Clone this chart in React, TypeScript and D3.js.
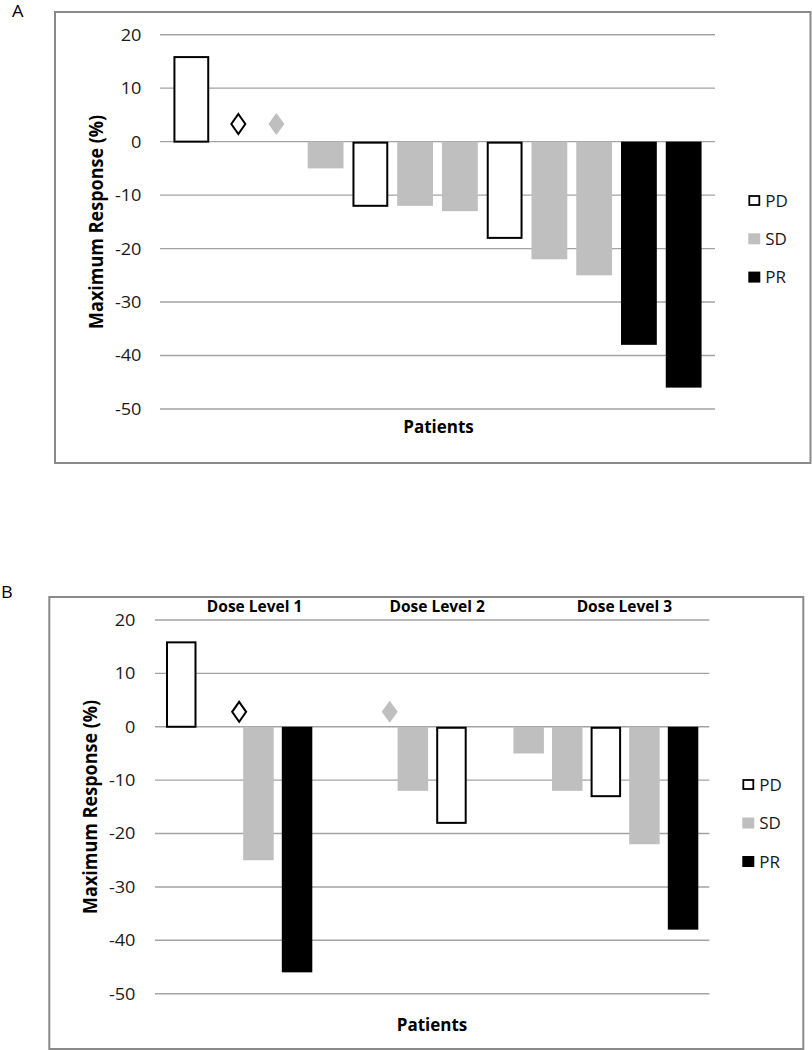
import React from "react";
import * as d3 from "d3";

// ---------- data ----------
const yTicks = [20, 10, 0, -10, -20, -30, -40, -50];
const legendItems = ["PD", "SD", "PR"];

// Panel A (patients ordered by response)
const aSlotCount = 12;
const aBarSlots = [0, 3, 4, 5, 6, 7, 8, 9, 10, 11];
const aBarTypes = ["PD", "SD", "PD", "SD", "SD", "PD", "SD", "SD", "PR", "PR"];
const aBarValues = [16, -5, -12, -12, -13, -18, -22, -25, -38, -46];
const aDiamondSlots = [1.05, 1.9];
const aDiamondTypes = ["PD", "SD"];
const aDiamondValues = [3.3, 3.3];

// Panel B (patients grouped by dose level)
const bSlotCount = 14;
const bBarSlots = [0, 2, 3, 6, 7, 9, 10, 11, 12, 13];
const bBarTypes = ["PD", "SD", "PR", "SD", "PD", "SD", "SD", "PD", "SD", "PR"];
const bBarValues = [16, -25, -46, -12, -18, -5, -12, -13, -22, -38];
const bDiamondSlots = [1.5, 5.4];
const bDiamondTypes = ["PD", "SD"];
const bDiamondValues = [2.8, 2.8];
const bDoseLabels = ["Dose Level 1", "Dose Level 2", "Dose Level 3"];
const bDoseLabelSlots = [1.9, 6.63, 11.48];

// ---------- styles ----------
const FONT = "'Open Sans', 'Noto Sans', sans-serif";
const GRAY = "#bfbfbf";
const fillFor = (t: string) => (t === "PD" ? "#ffffff" : t === "SD" ? GRAY : "#000000");

type PanelProps = {
  letter: string;
  letterX: number;
  letterY: number;
  frame: { x: number; y: number; w: number; h: number };
  plotX0: number;
  plotX1: number;
  yTop: number;
  yBottom: number;
  slotCount: number;
  paddingInner: number;
  paddingOuter: number;
  barSlots: number[];
  barTypes: string[];
  barValues: number[];
  diamondSlots: number[];
  diamondTypes: string[];
  diamondValues: number[];
  tickRight: number;
  titleX: number;
  patientsX: number;
  patientsY: number;
  legendX: number;
  legendY: number;
  legendStep: number;
  doseLabels?: string[];
  doseSlots?: number[];
  doseY?: number;
};

function Panel(p: PanelProps) {
  const y = d3.scaleLinear().domain([-50, 20]).range([p.yBottom, p.yTop]);
  const x = d3
    .scaleBand<number>()
    .domain(d3.range(p.slotCount))
    .range([p.plotX0, p.plotX1])
    .paddingInner(p.paddingInner)
    .paddingOuter(p.paddingOuter);
  const bw = x.bandwidth();
  const step = x.step();
  const slotCenter = (s: number) => (x(0) as number) + bw / 2 + s * step;
  const y0 = y(0);
  const titleY = (p.yTop + p.yBottom) / 2;

  const diamondPath = (cx: number, cy: number, hw: number, hh: number) =>
    `M${cx},${cy - hh}L${cx + hw},${cy}L${cx},${cy + hh}L${cx - hw},${cy}Z`;

  return (
    <g>
      <text
        transform={`translate(${p.letterX},${p.letterY}) scale(1.1,1)`}
        fontFamily={FONT}
        fontSize={16.5}
        fill="#000"
      >
        {p.letter}
      </text>
      <rect
        x={p.frame.x}
        y={p.frame.y}
        width={p.frame.w}
        height={p.frame.h}
        fill="#fff"
        stroke="#8a8a8a"
        strokeWidth={2}
      />
      {/* gridlines */}
      {yTicks.map((t) => (
        <line
          key={"g" + t}
          x1={p.plotX0}
          x2={p.plotX1}
          y1={y(t)}
          y2={y(t)}
          stroke="#a3a3a3"
          strokeWidth={1.4}
        />
      ))}
      {/* tick labels */}
      {yTicks.map((t) => (
        <text
          key={"t" + t}
          transform={`translate(${p.tickRight},${y(t)}) scale(1.1,1)`}
          dy="0.36em"
          textAnchor="end"
          fontFamily={FONT}
          fontSize={16.5}
          fill="#1a1a1a"
        >
          {t}
        </text>
      ))}
      {/* bars */}
      {p.barSlots.map((s, i) => {
        const v = p.barValues[i];
        const t = p.barTypes[i];
        const x0 = x(s) as number;
        const top = Math.min(y(v), y0);
        const h = Math.abs(y(v) - y0);
        if (t === "PD") {
          return (
            <rect
              key={"b" + i}
              x={x0 + 1}
              y={top + 1}
              width={bw - 2}
              height={h - 1}
              fill="#fff"
              stroke="#000"
              strokeWidth={2}
            />
          );
        }
        return <rect key={"b" + i} x={x0} y={top} width={bw} height={h} fill={fillFor(t)} />;
      })}
      {/* diamonds */}
      {p.diamondSlots.map((s, i) => {
        const cx = slotCenter(s);
        const cy = y(p.diamondValues[i]);
        const t = p.diamondTypes[i];
        return t === "PD" ? (
          <path key={"d" + i} d={diamondPath(cx, cy, 7, 10)} fill="#fff" stroke="#000" strokeWidth={2} />
        ) : (
          <path key={"d" + i} d={diamondPath(cx, cy, 8, 11)} fill={fillFor(t)} />
        );
      })}
      {/* dose labels */}
      {p.doseLabels &&
        p.doseLabels.map((lbl, i) => (
          <text
            key={"dl" + i}
            x={slotCenter(p.doseSlots![i])}
            y={p.doseY}
            textAnchor="middle"
            fontFamily={FONT}
            fontWeight="bold"
            fontSize={15.5}
            fill="#000"
          >
            {lbl}
          </text>
        ))}
      {/* axis titles */}
      <text
        transform={`translate(${p.titleX},${titleY}) rotate(-90) scale(1,1.12)`}
        textAnchor="middle"
        fontFamily={FONT}
        fontWeight="bold"
        fontSize={18}
        fill="#000"
      >
        Maximum Response (%)
      </text>
      <text
        x={p.patientsX}
        y={p.patientsY}
        textAnchor="middle"
        fontFamily={FONT}
        fontWeight="bold"
        fontSize={17}
        fill="#000"
      >
        Patients
      </text>
      {/* legend */}
      {legendItems.map((it, i) => {
        const cy = p.legendY + i * p.legendStep;
        return (
          <g key={"l" + it}>
            {it === "PD" ? (
              <rect x={p.legendX + 1} y={cy - 4.5} width={10} height={9} fill="#fff" stroke="#000" strokeWidth={1.8} />
            ) : (
              <rect x={p.legendX} y={cy - 5.5} width={12} height={11} fill={fillFor(it)} />
            )}
            <text
              x={p.legendX + 17}
              y={cy}
              dy="0.36em"
              fontFamily={FONT}
              fontSize={17}
              fill="#1a1a1a"
            >
              {it}
            </text>
          </g>
        );
      })}
    </g>
  );
}

export default function App() {
  return (
    <div style={{ position: "absolute", left: 0, top: 0 }}>
      <svg width={812} height={1050} style={{ display: "block", background: "#fff" }}>
        <Panel
          letter="A"
          letterX={12}
          letterY={17}
          frame={{ x: 55, y: 12, w: 755.5, h: 451 }}
          plotX0={160}
          plotX1={715}
          yTop={34.7}
          yBottom={409}
          slotCount={aSlotCount}
          paddingInner={0.2}
          paddingOuter={0.3}
          barSlots={aBarSlots}
          barTypes={aBarTypes}
          barValues={aBarValues}
          diamondSlots={aDiamondSlots}
          diamondTypes={aDiamondTypes}
          diamondValues={aDiamondValues}
          tickRight={141.5}
          titleX={103.3}
          patientsX={438.5}
          patientsY={432.5}
          legendX={748.3}
          legendY={200.5}
          legendStep={38.3}
        />
        <Panel
          letter="B"
          letterX={1}
          letterY={598}
          frame={{ x: 49.3, y: 597, w: 754, h: 452 }}
          plotX0={155}
          plotX1={709.3}
          yTop={620}
          yBottom={993.7}
          slotCount={bSlotCount}
          paddingInner={0.21}
          paddingOuter={0.285}
          barSlots={bBarSlots}
          barTypes={bBarTypes}
          barValues={bBarValues}
          diamondSlots={bDiamondSlots}
          diamondTypes={bDiamondTypes}
          diamondValues={bDiamondValues}
          tickRight={135.5}
          titleX={96.7}
          patientsX={432}
          patientsY={1030.5}
          legendX={742.3}
          legendY={784.5}
          legendStep={38.5}
          doseLabels={bDoseLabels}
          doseSlots={bDoseLabelSlots}
          doseY={612}
        />
      </svg>
    </div>
  );
}
